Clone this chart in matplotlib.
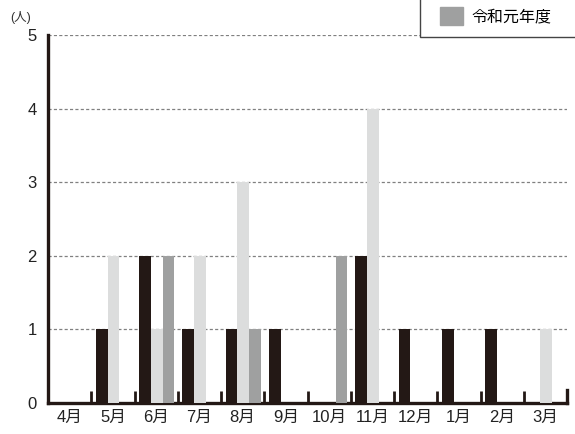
import matplotlib.pyplot as plt
import matplotlib.patches as mpatches
import numpy as np

plt.rcParams['font.family'] = ['Liberation Sans', 'Noto Sans CJK JP', 'DejaVu Sans']

months = ["4月", "5月", "6月", "7月", "8月", "9月", "10月", "11月", "12月", "1月", "2月", "3月"]
dark_vals = [0, 1, 2, 1, 1, 1, 0, 2, 1, 1, 1, 0]
light_vals = [0, 2, 1, 2, 3, 0, 0, 4, 0, 0, 0, 1]
medium_vals = [0, 0, 2, 0, 1, 0, 2, 0, 0, 0, 0, 0]
legend_label = "令和元年度"

c_dark = "#231815"
c_light = "#dcdddd"
c_medium = "#9fa0a0"

fig = plt.figure(figsize=(5.75, 4.34), dpi=100)
ax = fig.add_axes([48/575, 31/434, 519/575, 368/434])

x = np.arange(len(months))
w = 0.272
ax.bar(x - 0.255, dark_vals, width=w, color=c_dark, zorder=3)
ax.bar(x + 0.015, light_vals, width=w, color=c_light, zorder=3)
ax.bar(x + 0.285, medium_vals, width=w, color=c_medium, zorder=3)

ax.set_xlim(-0.5, 11.5)
ax.set_ylim(0, 5)
ax.set_yticks(range(6))
for v in range(1, 6):
    ax.axhline(v, color="#808080", lw=0.9, linestyle=(0, (2.5, 1.8)), zorder=1)

ax.set_xticks(x)
ax.set_xticklabels(months, fontsize=12, color='#222222')
ax.tick_params(axis='x', length=0, pad=5)
ax.tick_params(axis='y', length=0, pad=8, labelsize=12, labelcolor='#222222')
ax.set_xticks(np.arange(0.5, 11.5, 1), minor=True)
ax.tick_params(axis='x', which='minor', direction='in', length=9, width=2, color=c_dark)

for s in ['top', 'right']:
    ax.spines[s].set_visible(False)
ax.spines['left'].set_linewidth(2.4)
ax.spines['bottom'].set_linewidth(2.4)
ax.spines['left'].set_color(c_dark)
ax.spines['bottom'].set_color(c_dark)
ax.plot([11.5, 11.5], [0, 0.17], color=c_dark, lw=2.4, clip_on=False, zorder=4)

fig.text(10/575, 1 - 17/434, "(人)", fontsize=9, va='center', ha='left', color='#333333')

frame = mpatches.Rectangle((420/575, 1 - 37/434), 0.4, 0.2, transform=fig.transFigure,
                           facecolor='white', edgecolor='#444444', lw=1, zorder=5,
                           clip_on=False)
ax.add_patch(frame)
leg = ax.legend(handles=[mpatches.Patch(color=c_medium, label=legend_label)],
                loc='center left', bbox_to_anchor=(426/575, 1 - 16/434),
                bbox_transform=fig.transFigure, frameon=False, fontsize=11.5,
                handlelength=1.4, handleheight=1.4, handletextpad=0.55)
leg.set_zorder(6)

fig.savefig("out.png", dpi=100)
